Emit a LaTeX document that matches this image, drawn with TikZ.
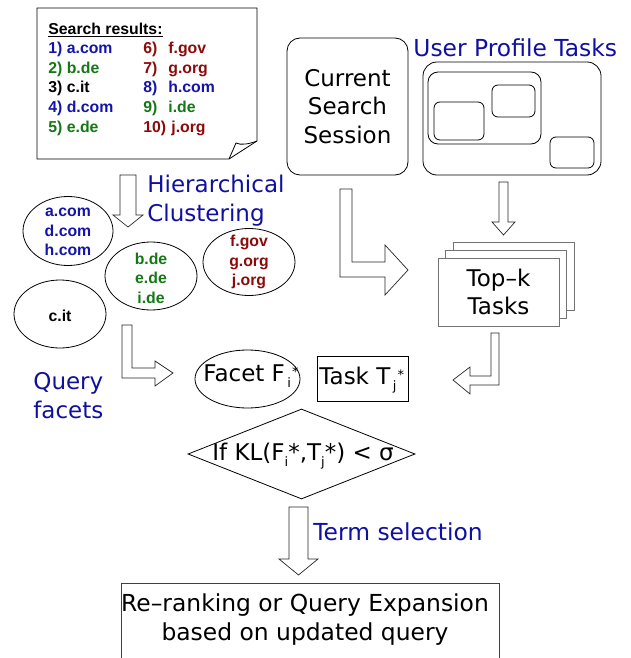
\documentclass[tikz,border=0pt]{standalone}
\usepackage{fontspec}
\setmainfont{DejaVu Sans}
\newfontfamily\resfont{Liberation Sans}
\usetikzlibrary{shapes.geometric}

\definecolor{labelblue}{RGB}{16,16,160}
\definecolor{resblue}{RGB}{20,20,170}
\definecolor{resgreen}{RGB}{20,120,20}
\definecolor{resred}{RGB}{140,10,10}

% font sizes (1pt = 1 unit of the picture)
\newcommand\lblsize{\fontsize{23}{28.8}\selectfont}
\newcommand\bigsize{\fontsize{23.4}{29}\selectfont}
\newcommand\ressize{\resfont\bfseries\fontsize{15.8}{19.5}\selectfont}
\newcommand\idxsize{\fontsize{13}{13}\selectfont}
% subscript followed by a raised mark, and a plain subscript
\newcommand\subsup[2]{\kern2.5pt\raisebox{-6pt}{\idxsize #1}\kern1pt\raisebox{5pt}{\idxsize #2}}
\newcommand\subidx[1]{\raisebox{-6pt}{\idxsize #1}}

\begin{document}
\begin{tikzpicture}[x=1pt,y=-1pt,line width=0.8pt,
  fatarrow/.style={draw=black!85,fill=white,line width=0.7pt,line join=miter},
  cluster/.style={draw,ellipse,inner sep=0pt},
  clustertext/.style={font=\ressize,align=center,inner sep=0pt},
  restext/.style={font=\ressize,inner sep=0pt,anchor=base west},
  lbl/.style={font=\lblsize,inner sep=0pt},
  bluelbl/.style={lbl,text=labelblue},
  roundbox/.style={draw,rounded corners=13pt,inner sep=0pt},
  smallbox/.style={draw,rounded corners=6pt,inner sep=0pt},
  stackbox/.style={draw=black!55,fill=white,inner sep=0pt,minimum width=121pt,minimum height=68pt}]
\useasboundingbox (0,0) rectangle (631,658);

% ---- search results sheet with curled corner
\draw[fill=white] (37,8) -- (257,8) -- (257,141) -- (229,159) -- (37,159) -- cycle;
\draw (229,159) -- (236,143) .. controls (241,145.5) and (249,144) .. (257,141);

\node[restext] (hd) at (48,35) {\underline{Search results:}};
\node[restext,text=resblue]  (r1) at (48,54)   {1) a.com};
\node[restext,text=resgreen] (r2) at (48,73.5) {2) b.de};
\node[restext,text=black]    (r3) at (48,93)   {3) c.it};
\node[restext,text=resblue]  (r4) at (48,112.5){4) d.com};
\node[restext,text=resgreen] (r5) at (48,132)  {5) e.de};
\node[restext,text=resred]   (n6) at (143,54)   {6)};
\node[restext,text=resred]   (r6) at (168,54)   {f.gov};
\node[restext,text=resred]   (n7) at (143,73.5) {7)};
\node[restext,text=resred]   (r7) at (168,73.5) {g.org};
\node[restext,text=resblue]  (n8) at (143,93)   {8)};
\node[restext,text=resblue]  (r8) at (168,93)   {h.com};
\node[restext,text=resgreen] (n9) at (143,112.5){9)};
\node[restext,text=resgreen] (r9) at (168,112.5){i.de};
\node[restext,text=resred]   (n10) at (143,132) {10)};
\node[restext,text=resred]   (r10) at (171,132) {j.org};

% ---- clusters
\node[cluster,minimum width=90pt,minimum height=69pt] (cA) at (68,231) {};
\node[clustertext,text=resblue] (cAt) at (68,232) {a.com\\d.com\\h.com};
\node[cluster,minimum width=92pt,minimum height=68pt] (cB) at (151,276) {};
\node[clustertext,text=resgreen] (cBt) at (151,278) {b.de\\e.de\\i.de};
\node[cluster,minimum width=92pt,minimum height=67pt] (cC) at (249,262) {};
\node[clustertext,text=resred] (cCt) at (249,262) {f.gov\\g.org\\j.org};
\node[cluster,minimum width=92pt,minimum height=68pt] (cD) at (60,314) {};
\node[clustertext,text=black] (cDt) at (60,316) {c.it};

\node[bluelbl,anchor=west,align=left] (hc) at (147,200.6) {Hierarchical\\Clustering};
\node[bluelbl,anchor=west,align=left] (qf) at (33,396) {Query\\facets};

% ---- current session and user profile
\node[roundbox,lbl,align=center,minimum width=121pt,minimum height=137pt] (css) at (347.5,106.5) {Current\\Search\\Session};

\node[bluelbl,font=\bigsize,anchor=base west] (uptl) at (413,57) {User Profile Tasks};
\node[roundbox,rounded corners=14pt,minimum width=178pt,minimum height=113pt] (upt) at (512,118.5) {};
\node[roundbox,rounded corners=10pt,minimum width=113pt,minimum height=72pt] (grp) at (484.5,108) {};
\node[smallbox,minimum width=50pt,minimum height=38pt] (t1) at (459,121) {};
\node[smallbox,minimum width=43pt,minimum height=32pt] (t2) at (513.5,101) {};
\node[smallbox,minimum width=44pt,minimum height=31pt] (t3) at (572,152.5) {};

% ---- top-k task stack
\node[stackbox] (tk3) at (513.5,276) {};
\node[stackbox] (tk2) at (506,284) {};
\node[stackbox,lbl,align=center] (tk1) at (498.5,292) {Top–k\\Tasks};

% ---- facet, task and comparison
\node[draw,ellipse,inner sep=0pt,minimum width=105pt,minimum height=58pt] (facet) at (247.5,379) {};
\node[lbl,anchor=base west] (facett) at (203,381.7) {Facet F\subsup{i}{*}};
\node[draw,inner sep=0pt,minimum width=91pt,minimum height=45pt] (task) at (362.5,378.5) {};
\node[lbl,anchor=base west] (taskt) at (319,384.3) {Task T\subsup{j}{*}};

\node[draw,diamond,inner sep=0pt,minimum width=227pt,minimum height=90pt] (kl) at (301.5,454) {};
\node[lbl,anchor=base west] (klt) at (212,460) {If KL(F\subidx{i}*,T\subidx{j}*) < σ};

\node[bluelbl,font=\bigsize,anchor=base west] (ts) at (313,540) {Term selection};

% ---- final step
\node[draw=black!75,inner sep=0pt,minimum width=378pt,minimum height=79pt] (out) at (310,622.5) {};
\node[lbl,font=\bigsize,align=center] (outt) at (305,619.1) {Re–ranking or Query Expansion\\based on updated query};

% ---- block arrows
\draw[fatarrow] (120,175) -- (136,175) -- (136,215) -- (143,215) -- (128,227) -- (113,215) -- (120,215) -- cycle;
\draw[fatarrow] (340,189) -- (352,189) -- (352,262) -- (385,262) -- (385,245) -- (408,270) -- (385,295) -- (385,277) -- (340,277) -- cycle;
\draw[fatarrow] (499,182) -- (508,182) -- (508,222) -- (515,222) -- (503.5,235) -- (492,222) -- (499,222) -- cycle;
\draw[fatarrow] (122,325) -- (132,325) -- (132,368) -- (155,368) -- (155,361) -- (173,373) -- (155,386) -- (155,378) -- (122,378) -- cycle;
\draw[fatarrow] (499,333) -- (491,333) -- (491,376) -- (470,376) -- (470,367) -- (453,380) -- (470,394) -- (470,385) -- (499,385) -- cycle;
\draw[fatarrow] (289,507) -- (308,507) -- (308,559) -- (318,559) -- (298.5,575) -- (279,559) -- (289,559) -- cycle;
\end{tikzpicture}
\end{document}
